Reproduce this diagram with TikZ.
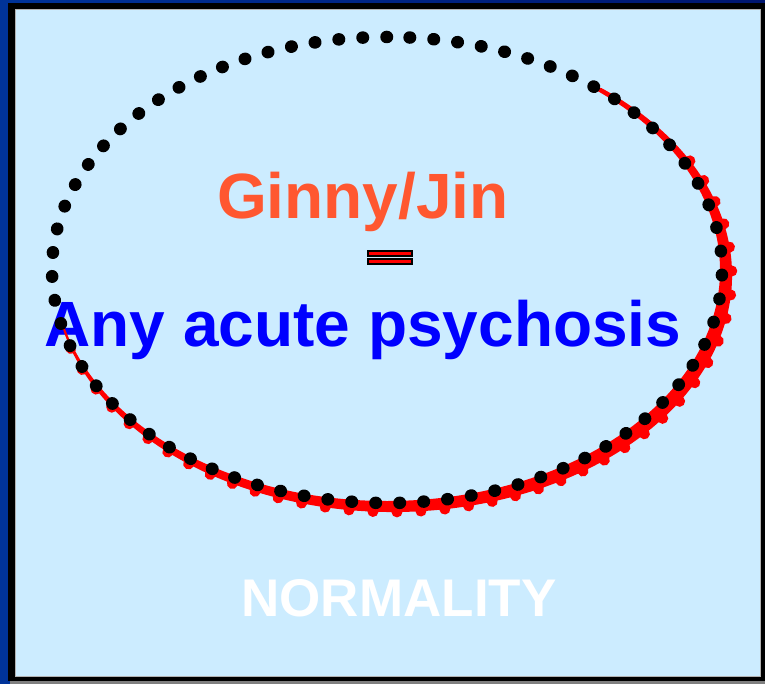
\documentclass[tikz,border=0pt]{standalone}
\usepackage{fontspec}
\setmainfont{Liberation Sans}
\usepackage{xcolor}
\usepackage{tikz}
\usetikzlibrary{calc}

\definecolor{slideblue}{RGB}{0,51,153}
\definecolor{slidenavy}{RGB}{0,22,112}
\definecolor{panelblue}{RGB}{204,236,255}
\definecolor{ginnyred}{RGB}{255,87,48}

\begin{document}
\begin{tikzpicture}[x=1pt,y=1pt,
    blackdots/.style={line width=12.5pt, line cap=round, dash pattern=on 0.5pt off 23.5pt},
    reddots/.style={red, line width=10.5pt, line cap=round, dash pattern=on 0.5pt off 23.5pt},
    bigtext/.style={font=\bfseries\fontsize{64}{64}\selectfont, inner sep=0pt, anchor=base},
    eqbar/.style={draw=black, fill=red, line width=2pt, minimum width=44pt, minimum height=5pt, inner sep=0pt}]
    % Draw the slide background and the panel
    \fill[left color=slideblue, right color=slidenavy] (0,0) rectangle (765,684);
    \useasboundingbox (0,0) rectangle (765,684);
    \fill[gray] (10,0) rectangle (765,3);
    \fill[black] (8,3) rectangle (765,681);
    \filldraw[fill=panelblue, draw=gray!60, line width=0.8pt] (15,8) rectangle (760,675);

    % Centres of the two rings
    \coordinate (ring) at (387,414);
    \coordinate (redring) at (393,409);

    % Add the text
    \node[bigtext, ginnyred] (ginny) at (363,465) {Ginny/Jin};
    \node[eqbar] (eqtop) at (390,430) {};
    \node[eqbar] (eqbottom) at (390,422) {};
    \node[bigtext, blue] (psychosis) at (363,337) {Any acute psychosis};
    \node[bigtext, white, font=\bfseries\fontsize{53}{53}\selectfont] (normality) at (399,67) {NORMALITY};

    % Draw the red band on the lower right
    \fill[red] ([shift={(192:339 and 237)}]redring)
        arc[start angle=192, end angle=412, x radius=339, y radius=237]
        -- ([shift={(412:333 and 231)}]ring)
        arc[start angle=412, end angle=192, x radius=333, y radius=231] -- cycle;
    \draw[reddots] ([shift={(198:339 and 237)}]redring)
        arc[start angle=198, end angle=390, x radius=339, y radius=237];

    % Draw the dotted ring
    \draw[blackdots] ([shift={(90:335 and 233)}]ring)
        arc[start angle=90, end angle=450, x radius=335, y radius=233];
\end{tikzpicture}
\end{document}
